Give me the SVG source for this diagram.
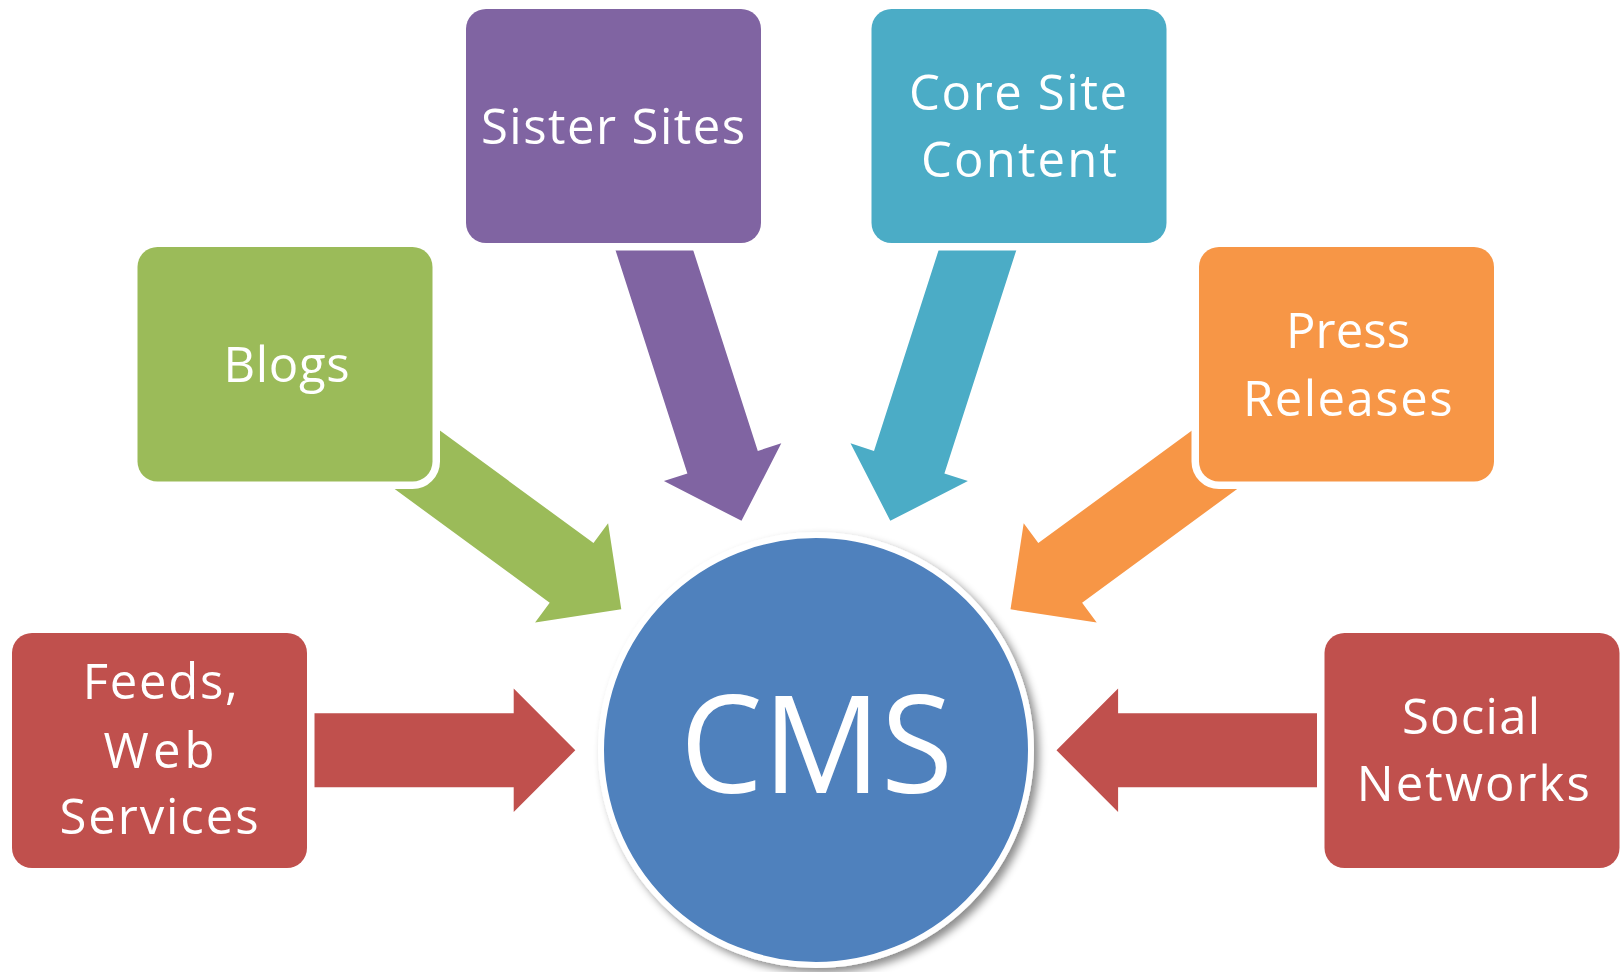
<svg xmlns="http://www.w3.org/2000/svg" width="1623" height="972" viewBox="0 0 1623 972">
<style>
  .box { stroke: #ffffff; stroke-width: 15; paint-order: stroke; }
  .lbl { font-family: "Open Sans", "Liberation Sans", sans-serif; font-size: 49px; fill: #ffffff; }
  .big { font-family: "Open Sans", "Liberation Sans", sans-serif; font-size: 136px; fill: #ffffff; }
</style>
<defs>
  <filter id="shadow" x="-20%" y="-20%" width="140%" height="140%">
    <feDropShadow dx="5" dy="5" stdDeviation="4" flood-color="#000000" flood-opacity="0.45"/>
  </filter>
</defs>
<rect width="1623" height="972" fill="#ffffff"/>
<g id="connectors">
  <polygon fill="#8064A2" points="609,230 686.7,230 757.8,450.9 781.3,443.3 741.5,520.8 663.9,481.1 687.4,473.5"/>
  <polygon fill="#4BACC6" points="1022.8,230 945.1,230 874,450.9 850.5,443.3 890.3,520.8 967.9,481.1 944.4,473.5"/>
  <polygon fill="#9BBB59" points="383.9,389.4 593.5,543.1 608.1,523.2 621.3,609.3 535.1,622.6 549.7,602.7 340.1,449"/>
  <polygon fill="#F79646" points="1247.9,389.4 1038.3,543.1 1023.7,523.2 1010.5,609.3 1096.7,622.6 1082.1,602.7 1291.7,449"/>
  <polygon fill="#C0504D" points="290,713.3 513.7,713.3 513.7,688.6 575.3,750.3 513.7,812 513.7,787.3 290,787.3"/>
  <polygon fill="#C0504D" points="1341.5,713.3 1118.1,713.3 1118.1,688.6 1056.5,750.3 1118.1,812 1118.1,787.3 1341.5,787.3"/>
</g>
<g id="cms">
  <circle cx="816" cy="750" r="215" fill="#4F81BD" stroke="#ffffff" stroke-width="6" filter="url(#shadow)"/>
  <text class="big" x="680" y="793" textLength="273" lengthAdjust="spacingAndGlyphs">CMS</text>
</g>
<g id="sister-sites">
  <rect class="box" x="466" y="9" width="295" height="234" rx="20" fill="#8064A2"/>
  <text class="lbl" x="481" y="144" textLength="264" lengthAdjust="spacing">Sister Sites</text>
</g>
<g id="core-site-content">
  <rect class="box" x="871.5" y="9" width="295" height="234" rx="20" fill="#4BACC6"/>
  <text class="lbl" x="909" y="110" textLength="218" lengthAdjust="spacing">Core Site</text>
  <text class="lbl" x="921" y="177" textLength="196" lengthAdjust="spacing">Content</text>
</g>
<g id="blogs">
  <rect class="box" x="137.5" y="247" width="295" height="234.5" rx="20" fill="#9BBB59"/>
  <text class="lbl" x="223.5" y="381.7" textLength="126" lengthAdjust="spacing">Blogs</text>
</g>
<g id="press-releases">
  <rect class="box" x="1199" y="247" width="295" height="234.5" rx="20" fill="#F79646"/>
  <text class="lbl" x="1286" y="348.3" textLength="124" lengthAdjust="spacing">Press</text>
  <text class="lbl" x="1243" y="416" textLength="209.5" lengthAdjust="spacing">Releases</text>
</g>
<g id="feeds-web-services">
  <rect class="box" x="12" y="633" width="295" height="235" rx="20" fill="#C0504D"/>
  <text class="lbl" x="82.8" y="699.3" textLength="155" lengthAdjust="spacing">Feeds,</text>
  <text class="lbl" x="103.5" y="767.7" textLength="111" lengthAdjust="spacing">Web</text>
  <text class="lbl" x="59.5" y="834.3" textLength="199" lengthAdjust="spacing">Services</text>
</g>
<g id="social-networks">
  <rect class="box" x="1324.5" y="633" width="295" height="235" rx="20" fill="#C0504D"/>
  <text class="lbl" x="1402" y="734.3" textLength="138" lengthAdjust="spacing">Social</text>
  <text class="lbl" x="1356.8" y="801" textLength="233" lengthAdjust="spacing">Networks</text>
</g>
</svg>
